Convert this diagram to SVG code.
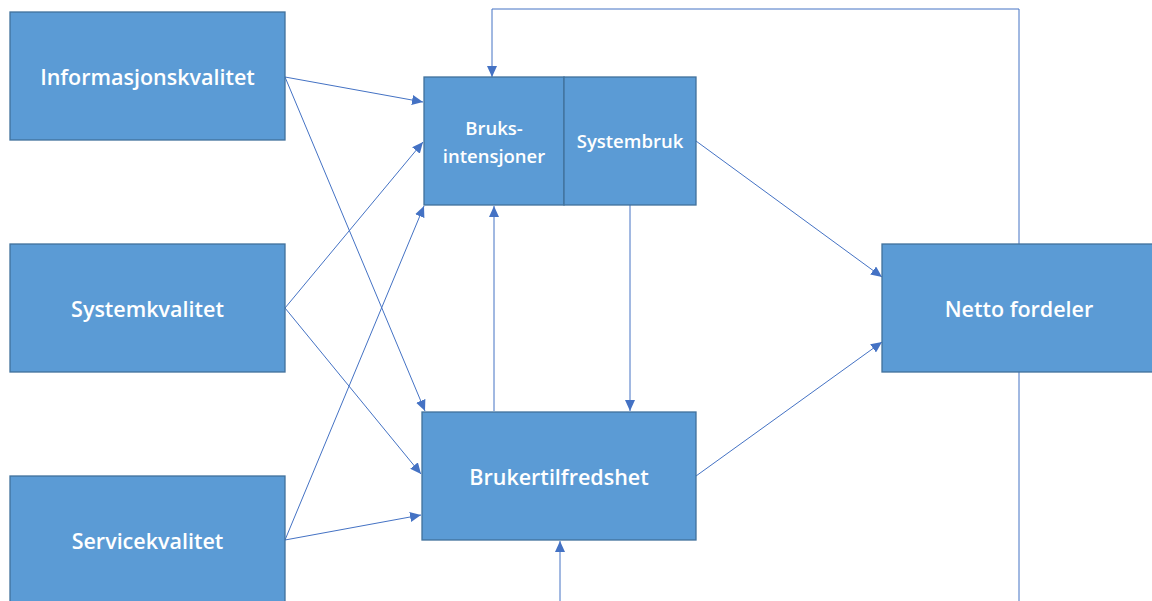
<svg xmlns="http://www.w3.org/2000/svg" width="1152" height="601" viewBox="0 0 1152 601">
<style>
.box{fill:#5B9BD5;stroke:#41719C;stroke-width:1.3}
.lbl{fill:#FFFFFF;font-family:"Open Sans","Liberation Sans",sans-serif;font-size:21.5px;font-weight:600;text-anchor:middle}
.sm{font-size:18.5px}
.con{fill:none;stroke:#4472C4;stroke-width:1}
</style>
<defs>
<marker id="ah" markerUnits="userSpaceOnUse" markerWidth="12" markerHeight="10" refX="11" refY="5" orient="auto">
<path d="M0,0 L11,5 L0,10 Z" fill="#4472C4"/>
</marker>
</defs>
<rect width="1152" height="601" fill="#FFFFFF"/>
<g id="connectors">
<line class="con" x1="285" y1="77" x2="423" y2="102" marker-end="url(#ah)"/>
<line class="con" x1="285" y1="77" x2="425" y2="411" marker-end="url(#ah)"/>
<line class="con" x1="285" y1="308" x2="423" y2="142" marker-end="url(#ah)"/>
<line class="con" x1="285" y1="308" x2="421" y2="474" marker-end="url(#ah)"/>
<line class="con" x1="285" y1="540" x2="424" y2="206" marker-end="url(#ah)"/>
<line class="con" x1="285" y1="540" x2="421" y2="515" marker-end="url(#ah)"/>
<line class="con" x1="494" y1="411" x2="494" y2="206" marker-end="url(#ah)"/>
<line class="con" x1="630" y1="205" x2="630" y2="411" marker-end="url(#ah)"/>
<line class="con" x1="696" y1="141" x2="882" y2="277" marker-end="url(#ah)"/>
<line class="con" x1="696" y1="476" x2="882" y2="342" marker-end="url(#ah)"/>
<polyline class="con" points="1019,244 1019,9 492,9 492,77" marker-end="url(#ah)"/>
<line class="con" x1="1019" y1="372" x2="1019" y2="601"/>
<line class="con" x1="560" y1="601" x2="560" y2="541" marker-end="url(#ah)"/>
</g>
<g id="informasjonskvalitet">
<rect class="box" x="10" y="12" width="275" height="128"/>
<text class="lbl" x="147.5" y="85">Informasjonskvalitet</text>
</g>
<g id="systemkvalitet">
<rect class="box" x="10" y="244" width="275" height="128"/>
<text class="lbl" x="147.5" y="317">Systemkvalitet</text>
</g>
<g id="servicekvalitet">
<rect class="box" x="10" y="476" width="275" height="135"/>
<text class="lbl" x="147.5" y="549">Servicekvalitet</text>
</g>
<g id="bruksintensjoner">
<rect class="box" x="424" y="77" width="140" height="128"/>
<text class="lbl sm" x="494" y="135">Bruks-</text>
<text class="lbl sm" x="494" y="163">intensjoner</text>
</g>
<g id="systembruk">
<rect class="box" x="564" y="77" width="132" height="128"/>
<text class="lbl sm" x="630" y="148">Systembruk</text>
</g>
<g id="brukertilfredshet">
<rect class="box" x="422" y="412" width="274" height="128"/>
<text class="lbl" x="559" y="485">Brukertilfredshet</text>
</g>
<g id="netto-fordeler">
<rect class="box" x="882" y="244" width="280" height="128"/>
<text class="lbl" x="1019" y="317">Netto fordeler</text>
</g>
</svg>
